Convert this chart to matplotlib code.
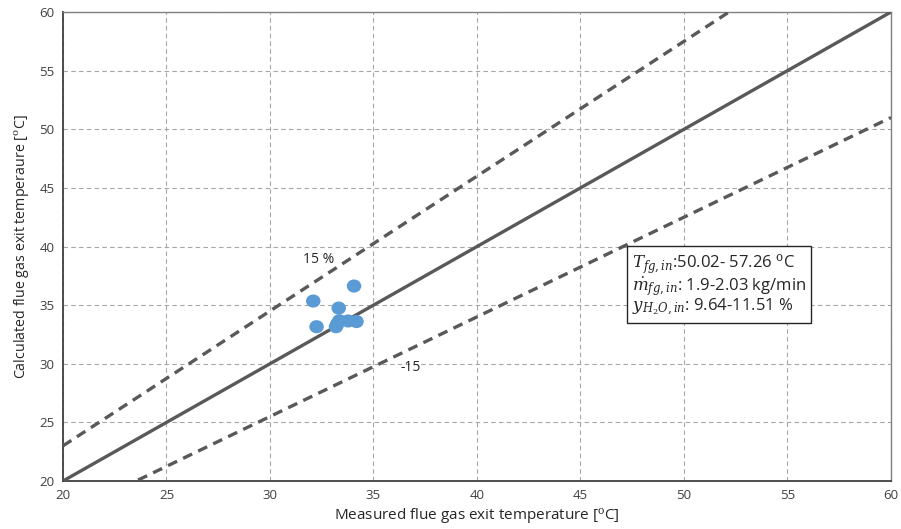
import matplotlib
matplotlib.use('Agg')
import matplotlib.pyplot as plt
from matplotlib.patches import Ellipse

# measured vs calculated flue gas exit temperature [degC]
measured = [34.06, 32.09, 33.32, 32.25, 33.19, 33.35, 33.78, 34.18, 33.25]
calculated = [36.63, 35.35, 34.75, 33.16, 33.16, 33.67, 33.65, 33.60, 33.40]

ticks = [20, 25, 30, 35, 40, 45, 50, 55, 60]
band = 0.15

plt.rcParams['font.family'] = ['Open Sans', 'DejaVu Sans']
plt.rcParams['mathtext.fontset'] = 'dejavuserif'

fig = plt.figure(figsize=(9.01, 5.29), dpi=100)
ax = fig.add_axes([0.0699, 0.0907, 0.919, 0.8866])

line_col = '#595959'
xs = [20, 60]
ax.plot(xs, xs, color=line_col, lw=2.4, zorder=3)
ax.plot(xs, [v * (1 + band) for v in xs], color=line_col, lw=2.4,
        ls=(0, (3, 2)), zorder=3)
ax.plot(xs, [v * (1 - band) for v in xs], color=line_col, lw=2.4,
        ls=(0, (3, 2)), zorder=3)

# points drawn as small ellipses in data coordinates
for mx, cy in zip(measured, calculated):
    ax.add_patch(Ellipse((mx, cy), 0.7, 1.12, facecolor='#5B9BD5',
                         edgecolor='none', zorder=4))

ax.set_xlim(20, 60)
ax.set_ylim(20, 60)
ax.set_xticks(ticks)
ax.set_yticks(ticks)
ax.tick_params(length=0, labelsize=9.5, colors='#404040', pad=6)
ax.grid(True, color='#a6a6a6', ls=(0, (4, 3)), lw=0.8)
ax.set_axisbelow(True)
for s in ax.spines.values():
    s.set_color('#808080')
    s.set_linewidth(1.0)
ax.spines['left'].set_color('#404040')
ax.spines['bottom'].set_color('#404040')
ax.spines['left'].set_linewidth(1.3)
ax.spines['bottom'].set_linewidth(1.3)

ax.set_xlabel(r'Measured flue gas exit temperature [$^\mathrm{o}$C]',
              fontsize=11, color='#262626', labelpad=3)
ax.set_ylabel(r'Calculated flue gas exit temperaure [$^\mathrm{o}$C]',
              fontsize=10.3, color='#262626', labelpad=5)

ax.text(31.6, 38.9, '15 %', fontsize=10, color='#262626', va='center')
ax.text(36.3, 29.7, '-15', fontsize=10, color='#262626', va='center')

info = ('$T_{fg,in}$:50.02- 57.26 $^\\mathrm{o}$C\n'
        '$\\dot{m}_{fg,in}$: 1.9-2.03 kg/min\n'
        '$y_{H_2O,in}$: 9.64-11.51 %')
ax.text(47.5, 36.7, info, fontsize=12, color='#262626', va='center',
        linespacing=0.95,
        bbox=dict(boxstyle='square,pad=0.3', facecolor='white',
                  edgecolor='#262626', lw=1.0), zorder=5)

fig.savefig('out.png', dpi=100)
